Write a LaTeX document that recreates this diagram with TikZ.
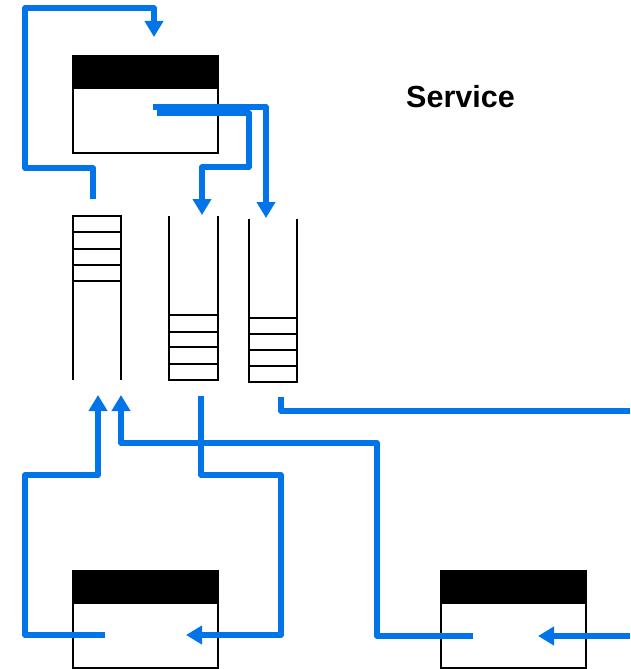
\documentclass[tikz,border=0pt]{standalone}
\usepackage{fontspec}
\setmainfont{Liberation Sans}
\usetikzlibrary{arrows.meta}
\definecolor{flow}{RGB}{0,116,232}
\tikzset{
  x=1pt, y=-1pt,
  box/.style={draw, line width=2pt, minimum width=145pt, minimum height=97pt,
    inner sep=0pt, outer sep=0pt,
    path picture={\fill (path picture bounding box.north west)
      rectangle ([yshift=-33pt]path picture bounding box.north east);}},
  qline/.style={line width=2pt},
  link/.style={draw=flow, line width=5.5pt, line join=round},
  arr/.style={link, -{Triangle[width=18pt,length=16pt]}}
}
\begin{document}
\begin{tikzpicture}
\useasboundingbox (0,0) rectangle (630,669);

% service boxes
\node[box] (svc) at (145.5,104.5) {};
\node[box] (cl) at (145.5,619.5) {};
\node[box] (cr) at (513.5,619) {};

\node[font=\fontsize{30.5}{34}\selectfont\bfseries, anchor=base west, inner sep=0pt] (title) at (406,107) {Service};

% queues
\draw[qline] (73,380) -- (73,216) -- (121,216) -- (121,380);
\foreach \y in {232,249,265,281} \draw[qline] (73,\y) -- (121,\y);
\draw[qline] (169,216) -- (169,380) -- (218,380) -- (218,216);
\foreach \y in {315,332,347,364} \draw[qline] (169,\y) -- (218,\y);
\draw[qline] (249,219) -- (249,382) -- (297,382) -- (297,219);
\foreach \y in {318,334,350,366} \draw[qline] (249,\y) -- (297,\y);

% connector end points
\coordinate (q1out) at (93,199);
\coordinate (svcin) at (154,37);
\coordinate (svcA) at (153,107);
\coordinate (svcB) at (157,113);
\coordinate (q2in) at (202,215);
\coordinate (q3in) at (266,218);
\coordinate (q1inA) at (98,395);
\coordinate (q1inB) at (121,395);
\coordinate (q2out) at (201,396);
\coordinate (q3out) at (281,397);
\coordinate (clA) at (105,635);
\coordinate (clB) at (186,635);
\coordinate (crA) at (473,636);
\coordinate (crB) at (538,636);
\coordinate (eastA) at (630,411);
\coordinate (eastB) at (630,636);

% flows
\draw[arr] (q1out) -- (93,168) -- (25,168) -- (25,8) -- (154,8) -- (svcin);
\draw[arr] (svcA) -- (266,107) -- (q3in);
\draw[arr] (svcB) -- (249,113) -- (249,167) -- (202,167) -- (q2in);
\draw[arr] (clA) -- (25,635) -- (25,475) -- (98,475) -- (q1inA);
\draw[arr] (crA) -- (377,636) -- (377,443) -- (121,443) -- (q1inB);
\draw[arr] (q2out) -- (201,475) -- (281,475) -- (281,635) -- (clB);
\draw[link] (q3out) -- (281,411) -- (eastA);
\draw[arr] (eastB) -- (crB);
\end{tikzpicture}
\end{document}
